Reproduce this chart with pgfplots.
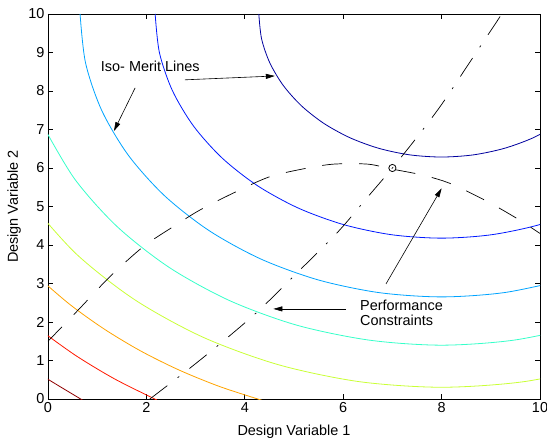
\documentclass[border=0pt]{standalone}
\usepackage{fontspec}
\setmainfont{Liberation Sans}
\usepackage{pgfplots}
\pgfplotsset{compat=1.18}
\usetikzlibrary{arrows.meta}
\definecolor{c1}{rgb}{0,0,0.62}
\definecolor{c2}{rgb}{0,0.1,1}
\definecolor{c3}{rgb}{0,0.64,1}
\definecolor{c4}{rgb}{0.21,1,0.79}
\definecolor{c5}{rgb}{0.79,1,0.21}
\definecolor{c6}{rgb}{1,0.64,0}
\definecolor{c7}{rgb}{1,0.1,0}
\definecolor{c8}{rgb}{0.56,0,0}
\newcommand{\f}{\fontsize{14.5}{15}\selectfont}
\begin{document}
\begin{tikzpicture}
\useasboundingbox (-48bp,-42bp) rectangle (499bp,399bp);
\begin{axis}[
  at={(0,0)}, anchor=south west,
  width=492bp, height=385bp, scale only axis,
  xmin=0, xmax=10, ymin=0, ymax=10,
  xtick={0,2,4,6,8,10}, ytick={0,1,2,3,4,5,6,7,8,9,10},
  tick align=inside, major tick length=5bp,
  axis line style={line width=0.9bp},
  tick style={line width=0.7bp, black},
  /pgf/number format/assume math mode=true,
  tick label style={font=\f},
  label style={font=\f},
  xlabel={Design Variable 1},
  ylabel={Design Variable 2},
  xlabel style={at={(axis description cs:0.5,-0.0857)}, anchor=center},
  ylabel style={at={(axis description cs:-0.069,0.5)}, anchor=center},
  every axis plot/.append style={line width=0.8bp},
]
% iso-merit contour lines
\addplot[c1, smooth] coordinates {(4.285,10) (4.341,9.355) (4.509,8.729) (4.783,8.142) (5.154,7.612) (5.612,7.154) (6.142,6.783) (6.729,6.509) (7.355,6.341) (8,6.285) (8.645,6.341) (9.271,6.509) (9.858,6.783) (10.388,7.154)};
\addplot[c2, smooth] coordinates {(2.178,10) (2.266,8.989) (2.529,8.009) (2.958,7.089) (3.540,6.258) (4.258,5.540) (5.089,4.958) (6.009,4.529) (6.989,4.266) (8,4.178) (9.011,4.266) (9.991,4.529) (10.911,4.958)};
\addplot[c3, smooth] coordinates {(0.652,10) (0.764,8.724) (1.095,7.487) (1.636,6.326) (2.371,5.277) (3.277,4.371) (4.326,3.636) (5.487,3.095) (6.724,2.764) (8,2.652) (9.276,2.764) (10.513,3.095)};
\addplot[c4, smooth] coordinates {(-0.083,7.058) (0.551,5.699) (1.411,4.471) (2.471,3.411) (3.699,2.551) (5.058,1.917) (6.529,1.529) (8,1.398) (9.471,1.529) (10.942,1.917)};
\addplot[c5, smooth] coordinates {(-0.396,5.152) (0.574,3.768) (1.768,2.574) (3.152,1.604) (4.684,0.890) (6.317,0.452) (8,0.305) (9.683,0.452) (11.316,0.890)};
\addplot[c6, smooth] coordinates {(-0.179,3.137) (0.450,2.450) (1.137,1.821) (1.876,1.253) (2.661,0.754) (3.488,0.324) (4.348,-0.033)};
\addplot[c7, smooth] coordinates {(-0.185,1.815) (0.559,1.133) (1.360,0.517) (2.212,-0.025)};
\addplot[c8, smooth] coordinates {(-0.304,0.778) (0.023,0.494) (0.882,-0.166)};
% performance constraints
\addplot[black, line width=0.7bp, smooth, dash pattern=on 20bp off 17bp] coordinates {(0,1.5) (0.65,2.36) (1.26,3.18) (1.94,3.96) (2.55,4.48) (3.09,4.91) (3.8,5.37) (4.5,5.77) (5.2,5.98) (5.8,6.1) (6.5,6.1) (7,5.97) (7.6,5.82) (8.17,5.6) (8.9,5.15) (9.53,4.69) (10,4.3)};
\addplot[black, line width=0.7bp, smooth, dash pattern=on 22bp off 13bp on 2bp off 13bp] coordinates {(2.07,0) (3.09,1.01) (4.2,2.2) (5.12,3.35) (5.9,4.35) (6.5,5.25) (7.0,6.0) (7.5,6.8) (8.0,7.65) (8.6,8.8) (9.12,9.8) (9.22,10.0)};
% optimum
\addplot[black, only marks, mark=o, mark size=3.6bp, line width=0.8bp] coordinates {(7,6)};
% annotations
\node[font=\f, inner sep=0pt] at (axis cs:2.08,8.65) {Iso- Merit Lines};
\draw[-{Triangle[length=9bp,width=5bp]}, line width=0.6bp] (axis cs:1.77,8.08) -- (axis cs:1.34,6.96);
\draw[-{Triangle[length=9bp,width=5bp]}, line width=0.6bp] (axis cs:2.78,8.29) -- (axis cs:4.61,8.39);
\node[font=\f, inner sep=0pt, anchor=west, align=left] at (axis cs:6.34,2.25) {Performance\\Constraints};
\draw[-{Triangle[length=9bp,width=5bp]}, line width=0.6bp] (axis cs:6.06,2.34) -- (axis cs:4.58,2.34);
\draw[-{Triangle[length=9bp,width=5bp]}, line width=0.6bp] (axis cs:6.87,2.99) -- (axis cs:8.0,5.47);
\end{axis}
\end{tikzpicture}
\end{document}
